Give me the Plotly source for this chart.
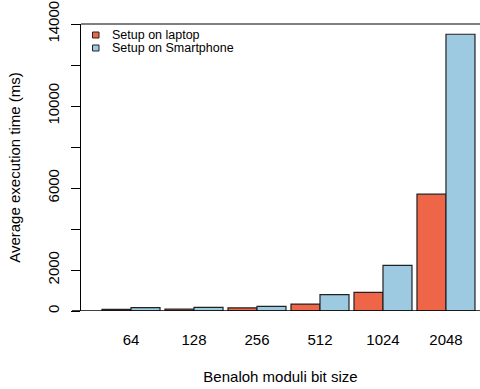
import plotly.graph_objects as go

categories = ["64", "128", "256", "512", "1024", "2048"]
laptop_ms = [80, 90, 150, 340, 910, 5700]
smartphone_ms = [160, 180, 230, 800, 2230, 13500]
y_tick_vals = [0, 2000, 4000, 6000, 8000, 10000, 12000, 14000]
y_tick_text = ["0", "2000", "", "6000", "", "10000", "", "14000"]
series_names = ["Setup on laptop", "Setup on Smartphone"]
series_colors = ["#EF6548", "#9ECAE1"]

W, H = 480, 389
ML, MR, MT, MB = 81, 0, 24, 78
PW, PH = W - ML - MR, H - MT - MB

def px_x(x):
    return (x - ML) / PW

def px_y(y):
    return 1 - (y - MT) / PH

fig = go.Figure()
for name, vals, col in zip(series_names, [laptop_ms, smartphone_ms], series_colors):
    fig.add_trace(go.Bar(
        x=categories, y=vals, name=name,
        marker=dict(color=col, line=dict(color="#222222", width=1.2)),
        showlegend=False,
    ))

font_family = "Liberation Sans, Arial, sans-serif"
fig.update_layout(
    width=W, height=H,
    margin=dict(l=ML, r=MR, t=MT, b=MB, autoexpand=False),
    paper_bgcolor="white", plot_bgcolor="white",
    barmode="group", bargap=5 / 63, bargroupgap=0,
    font=dict(family=font_family, size=15, color="black"),
    xaxis=dict(
        type="category", range=[-0.794, 5.54],
        showline=False, showgrid=False, zeroline=False, ticks="",
        tickfont=dict(size=15), ticklabelstandoff=18,
        title=dict(text="Benaloh moduli bit size", font=dict(size=15), standoff=24),
        automargin=False,
    ),
    yaxis=dict(
        range=[0, 14000],
        showline=True, linecolor="black", linewidth=1.3,
        showgrid=False, zeroline=False,
        ticks="outside", ticklen=9, tickwidth=1.3, tickcolor="black",
        tickvals=y_tick_vals, ticktext=y_tick_text, tickangle=-90,
        tickfont=dict(size=15), ticklabelstandoff=6,
        title=dict(text="Average execution time (ms)", font=dict(size=15), standoff=20),
        automargin=False,
    ),
)

# top frame line and baseline
fig.add_shape(type="line", xref="paper", yref="paper", x0=0, x1=1, y0=1, y1=1,
              line=dict(color="#555555", width=1.6))
fig.add_shape(type="line", xref="paper", yref="y", x0=px_x(72), x1=1, y0=0, y1=0,
              line=dict(color="black", width=1.3))

# compact legend (R style)
rows_y = [35, 48]
for name, col, yc in zip(series_names, series_colors, rows_y):
    fig.add_shape(type="rect", xref="paper", yref="paper",
                  x0=px_x(92.5), x1=px_x(99), y0=px_y(yc - 3), y1=px_y(yc + 3),
                  fillcolor=col, line=dict(color="#222222", width=1))
    fig.add_annotation(xref="paper", yref="paper", x=px_x(110), y=px_y(yc),
                       xanchor="left", yanchor="middle", text=name, showarrow=False,
                       font=dict(size=12.5, family=font_family, color="black"))

fig.write_html("out.html", config={"displayModeBar": False},
               post_script="document.body.style.margin='0';document.body.style.overflow='hidden';")
